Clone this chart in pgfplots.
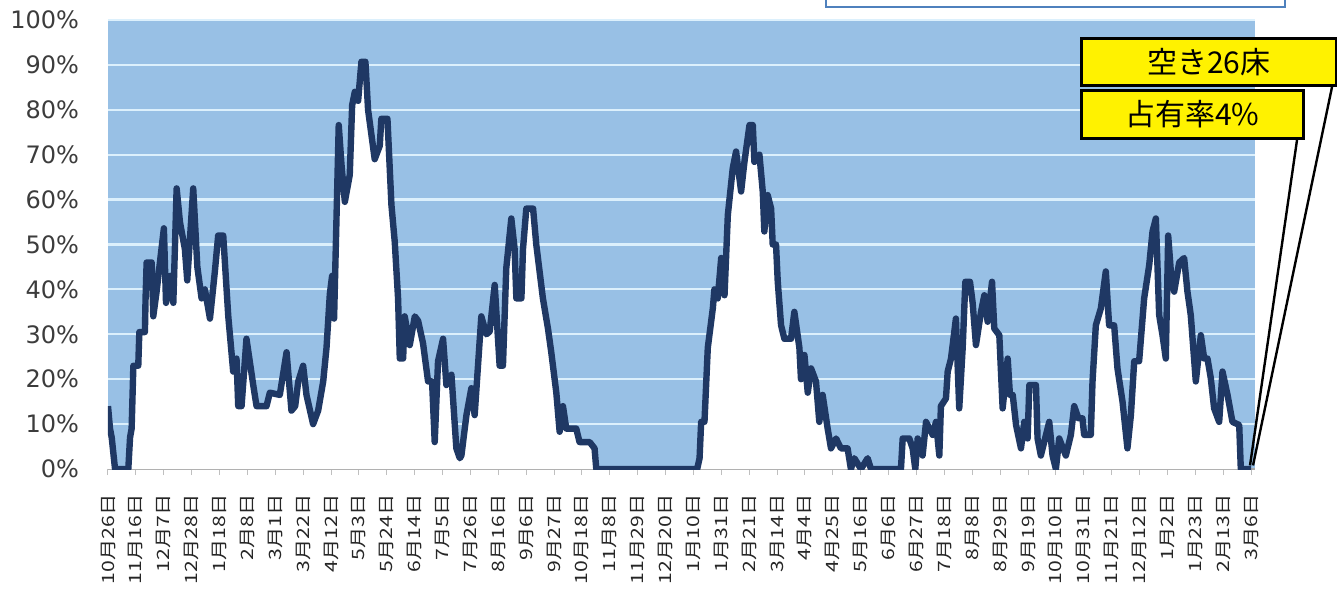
\documentclass[border=0pt]{standalone}
\usepackage{pgfplots}
\pgfplotsset{compat=1.18}
\usepackage{fontspec}
\setmainfont{DejaVu Sans}
\newfontfamily\jp{Noto Sans CJK JP}
\newfontfamily\jpx[FakeStretch=1.25]{Noto Sans CJK JP}

\definecolor{plotbg}{RGB}{152,192,229}
\definecolor{gridc}{RGB}{220,240,252}
\definecolor{navy}{RGB}{31,56,100}
\definecolor{ticktext}{RGB}{60,60,60}
\definecolor{boxblue}{RGB}{79,129,189}

% occupancy (%) by day since 10/26
\pgfplotstableread{
day val
0 14
1.5 9
2.8 7
5.3 0
15.3 0
16.6 7
17.8 9
19.1 23
22.8 23
23.6 30.5
27.8 30.5
28.3 38
29.1 46
32.9 46
34.1 34
36.6 39.5
39.1 46
42.1 53.6
43.7 37
46.7 43
49.2 37
51.7 62.5
54.2 55
57.9 49
59.7 42
64.2 62.5
67.3 45
70.5 38
73 40
76.8 33.5
80.5 44
83 52
86.8 52
90.6 34
94.3 21.7
96.8 24.6
98.1 14
100.6 14
104.3 29
109.4 18.7
111.9 14
119.4 14
121.9 17
129.4 16.5
134.5 26
138.2 13
141 14
143.3 19.5
147 23
149.5 16.5
154.5 10
158.3 13
162.1 19.5
164.6 27
167.1 39
168.8 43
170.3 33.5
173.8 76.6
175.9 67.7
178.4 59.5
182.1 65.5
183.9 81
185.9 84
188.4 82
190.9 90.7
193.9 90.7
195.9 80
200.9 69
204.7 72
205.9 78
210.5 78
213.5 58.8
216 50.6
218.5 38
219.8 24.6
222.3 24.6
223.5 34
227.3 27.6
231.1 34
233.6 33
237.3 28
241.1 19.5
244.1 19.5
246.1 6
248.6 24
252.4 29
254.9 18.7
258.7 21
262.4 4.6
265 2.4
266.2 3
270 12
273.7 18
276.2 12
281.2 34
285 30
287.5 30.6
291.3 41
295 23
297.5 23
300 44.7
303.8 55.8
306.3 49
307.6 38
311.4 38
312.6 49
315.1 58
320.2 58
322.6 50
325.1 44
327.6 38
331.4 31.3
333.9 26
337.7 17
340.2 8.3
342.7 14
345.2 9
352.7 9
355.2 6
362.8 6
366.5 4.6
367.8 0
443.8 0
445.6 2.4
446.8 10.5
449.3 10.5
451.8 27
455.6 35.8
456.8 40
459.3 38
461.9 47
464.4 38.7
466.9 56.6
470.6 67
473.1 70.7
476.9 61.8
479.4 68.4
483.2 76.6
485.7 76.6
486.9 68.4
490.7 70
493.2 61.8
494.4 52.9
496.9 61
499.5 58
500.7 50
503.2 50
504.5 41.7
507 32
509.5 29
514.5 29
517 35
520.8 27
522 20
524.6 25.4
527.1 17
529.6 22.4
533.3 19.5
535.8 10.5
538.3 16.5
542.1 9
544.6 4.6
548.4 6.8
552.1 4.6
557.1 4.6
559.6 0
562.2 2.4
567.2 0
572.2 2.4
574.7 0
597.3 0
598.6 6.8
603.6 6.8
606.1 4.6
608.1 0
609.9 6.8
613.6 3
616.2 10.5
621.2 7.6
623.7 10.5
626.2 3
627.4 14
631.2 15.7
632.5 21.7
635 24.6
638.7 33.5
641.2 13.5
643.8 27
645.8 41.7
649.3 41.7
651.3 37
653.8 27.6
657.6 35
660.1 38.7
662.6 32.8
665.9 41.7
667.6 31.3
671.4 29.8
673.9 13.5
677.7 24.6
679.4 16.5
681.5 16.5
684 9.8
687.7 4.6
690.2 10.5
692.7 6.8
694 18.7
699 18.7
700.2 6.8
702.7 3
709 10.5
711.5 3
714 0
716.5 6.8
721.5 3
725.3 7.6
727.8 14
731 11.3
734 11.3
735.3 7.6
740.3 7.6
741.6 19.5
744.1 32
747.9 35.8
751.6 44
754.1 32
757.9 32
760.4 22.4
764.2 15
767.9 4.6
770.5 12
773 24
776.7 24
780.5 38
784.3 45.4
786.8 52.9
789.3 55.8
791.8 34.3
794.3 29.8
796.8 24.6
798.6 52
800.6 44
803.1 39.5
806.9 46
810.6 47
813.1 39.5
815.6 34.3
819.4 19.5
823.2 29.8
825.7 24.6
828.2 24.6
830.7 20.2
833.2 13.5
837 10.5
839.5 21.7
843.3 16.5
847 10.5
852.1 9.8
853.3 0
861 0
}\occ

\begin{document}
\begin{tikzpicture}[x=1pt,y=1pt]
\useasboundingbox (0,0) rectangle (668.5,294.5);
\begin{axis}[
    at={(54pt,60pt)}, anchor=south west,
    scale only axis, width=573.5pt, height=224.5pt,
    xmin=0, xmax=864, ymin=0, ymax=100,
    axis background/.style={fill=plotbg},
    axis x line*=bottom, axis y line*=left,
    x axis line style={draw=gray!70, line width=0.8pt},
    y axis line style={draw=none},
    ytick={0,10,...,100},
    yticklabels={0\%,10\%,20\%,30\%,40\%,50\%,60\%,70\%,80\%,90\%,100\%},
    ytick style={draw=none},
    yticklabel style={font=\fontsize{12}{12}\selectfont, text=ticktext, xshift=-8pt},
    ymajorgrids, major grid style={gridc, line width=1.1pt},
    xtick={0,21,...,861},
    xticklabels={10月26日,11月16日,12月7日,12月28日,1月18日,2月8日,3月1日,3月22日,4月12日,5月3日,5月24日,6月14日,7月5日,7月26日,8月16日,9月6日,9月27日,10月18日,11月8日,11月29日,12月20日,1月10日,1月31日,2月21日,3月14日,4月4日,4月25日,5月16日,6月6日,6月27日,7月18日,8月8日,8月29日,9月19日,10月10日,10月31日,11月21日,12月12日,1月2日,1月23日,2月13日,3月6日},
    tick align=outside, major tick length=3pt,
    xtick style={draw=gray!50, line width=0.5pt},
    xticklabel style={yshift=-9.5pt, rotate=90, anchor=east, inner sep=0pt,
        font=\jpx\fontsize{8.5}{8.5}\selectfont, text=black!85},
]
\addplot[fill=white, draw=none] table[x=day, y=val]{\occ} \closedcycle;
\addplot[navy, line width=3.2pt, line join=round] table[x=day, y=val]{\occ};
\coordinate (endpt) at (axis cs:861,0.8);
\end{axis}
% bottom of the title box cut off at the top edge
\draw[boxblue, line width=1pt] (413,300) -- (413,291) -- (642.5,291) -- (642.5,300);
% callouts
\draw[black, line width=1.2pt] (666,251) -- ([xshift=1pt]endpt);
\draw[black, line width=1.2pt] (648.5,224.5) -- ([xshift=-0.5pt]endpt);
\node[draw=black, line width=1.4pt, fill=yellow, minimum width=127.5pt, minimum height=23.5pt,
      inner sep=0pt, anchor=south west, font=\jp\fontsize{15}{15}\selectfont]
      at (540,251) {空き26床};
\node[draw=black, line width=1.4pt, fill=yellow, minimum width=111pt, minimum height=24pt,
      inner sep=0pt, anchor=south west, font=\jp\fontsize{15}{15}\selectfont]
      at (540,224.5) {占有率4\%};
\end{tikzpicture}
\end{document}
